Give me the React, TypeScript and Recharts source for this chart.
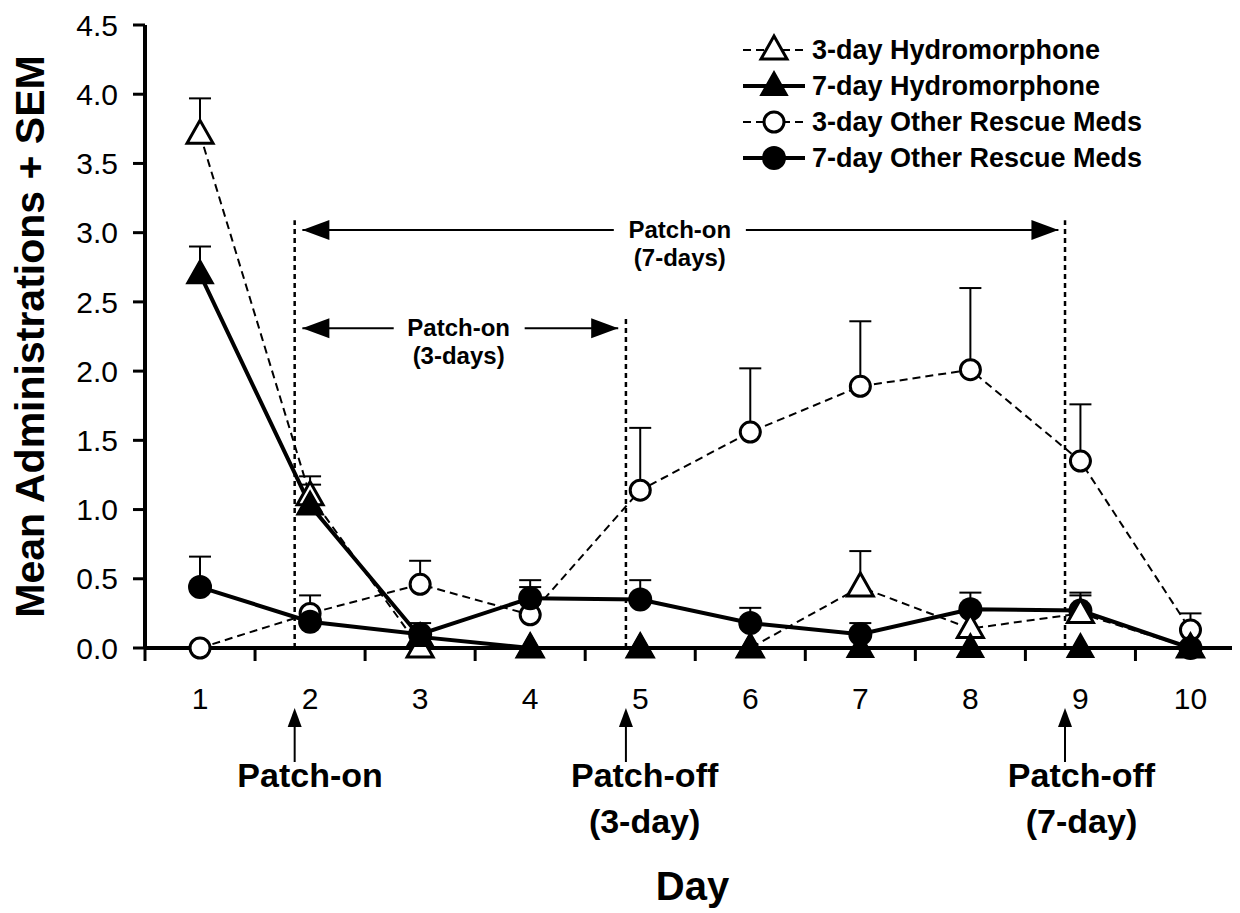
import React from 'react';
import {
  LineChart,
  Line,
  XAxis,
  YAxis,
  ErrorBar,
  ReferenceLine,
  ReferenceDot,
  Legend,
} from 'recharts';

const FONT = '"Liberation Sans", Arial, Helvetica, sans-serif';

// values
const days = [1, 2, 3, 4, 5, 6, 7, 8, 9, 10];
const hydro3Mean = [3.71, 1.1, 0, 0, 0, 0, 0.44, 0.14, 0.25, 0];
const hydro3Sem = [0.26, 0.14, null, null, null, null, 0.26, null, 0.13, null];
const hydro7Mean = [2.7, 1.03, 0.08, 0, 0, 0, 0, 0, 0, 0];
const hydro7Sem = [0.2, 0.15, null, null, null, null, null, null, null, null];
const other3Mean = [0, 0.25, 0.46, 0.24, 1.14, 1.56, 1.89, 2.01, 1.35, 0.13];
const other3Sem = [null, 0.13, 0.17, 0.2, 0.45, 0.46, 0.47, 0.59, 0.41, 0.12];
const other7Mean = [0.44, 0.19, 0.1, 0.36, 0.35, 0.18, 0.1, 0.28, 0.27, 0];
const other7Sem = [0.22, null, 0.08, 0.13, 0.14, 0.11, 0.08, 0.12, 0.13, null];

// tick marks sit between the days, labels on the days
const halfTicks = [0.5, 1.5, 2.5, 3.5, 4.5, 5.5, 6.5, 7.5, 8.5, 9.5];
const xTicks = [...halfTicks, ...days].sort((a, b) => a - b);
const yTicks = [0, 0.5, 1, 1.5, 2, 2.5, 3, 3.5, 4, 4.5];

const seriesNames = [
  '3-day Hydromorphone',
  '7-day Hydromorphone',
  '3-day Other Rescue Meds',
  '7-day Other Rescue Meds',
];

// patch on / off markers (day positions)
const patchOnDay = 1.86;
const patchOff3Day = 4.87;
const patchOff7Day = 8.86;

const data = days.map((day, i) => ({
  day,
  hydro3: hydro3Mean[i],
  hydro3Sem: hydro3Sem[i],
  hydro7: hydro7Mean[i],
  hydro7Sem: hydro7Sem[i],
  other3: other3Mean[i],
  other3Sem: other3Sem[i],
  other7: other7Mean[i],
  other7Sem: other7Sem[i],
}));

type MarkerKind = 'openTri' | 'fillTri' | 'openCircle' | 'fillCircle';

function marker(kind: MarkerKind, cx: number, cy: number) {
  const tri = `${cx},${cy - 14} ${cx + 13},${cy + 9} ${cx - 13},${cy + 9}`;
  if (kind === 'openTri') {
    return <polygon points={tri} fill="#fff" stroke="#000" strokeWidth={3} />;
  }
  if (kind === 'fillTri') {
    return <polygon points={tri} fill="#000" stroke="#000" strokeWidth={2} />;
  }
  if (kind === 'openCircle') {
    return <circle cx={cx} cy={cy} r={10} fill="#fff" stroke="#000" strokeWidth={3} />;
  }
  return <circle cx={cx} cy={cy} r={12} fill="#000" />;
}

const dotFor = (kind: MarkerKind) => (p: any) => {
  if (p.cx == null || p.cy == null) return <g key={`${kind}-${p.index}`} />;
  return <g key={`${kind}-${p.index}`}>{marker(kind, p.cx, p.cy)}</g>;
};

// error bars are upper only: the lower end is tucked inside the marker
const semTri = (key: string) => (d: any) => (d[key] == null ? null : [0.04, d[key]]);
const semCircle = (key: string) => (d: any) => (d[key] == null ? null : [0, d[key]]);

function DayTick(p: any) {
  const { x, y, payload } = p;
  const v = payload.value as number;
  if (Number.isInteger(v)) {
    return (
      <text x={x} y={y + 61} textAnchor="middle" style={{ fontFamily: FONT, fontSize: 30, fill: '#000' }}>
        {v}
      </text>
    );
  }
  return <line x1={x} y1={y} x2={x} y2={y + 13} stroke="#000" strokeWidth={3} />;
}

const legendRows: { kind: MarkerKind; dashed: boolean }[] = [
  { kind: 'openTri', dashed: true },
  { kind: 'fillTri', dashed: false },
  { kind: 'openCircle', dashed: true },
  { kind: 'fillCircle', dashed: false },
];

function LegendBox() {
  return (
    <div style={{ fontFamily: FONT }}>
      {seriesNames.map((name, i) => {
        const row = legendRows[i];
        return (
          <div key={name} style={{ display: 'flex', alignItems: 'center', height: 36 }}>
            <svg width={62} height={36}>
              <line
                x1={0}
                y1={18}
                x2={62}
                y2={18}
                stroke="#000"
                strokeWidth={row.dashed ? 2 : 4}
                strokeDasharray={row.dashed ? '8 5' : undefined}
              />
              {marker(row.kind, 31, 18)}
            </svg>
            <span style={{ marginLeft: 7, fontSize: 27, fontWeight: 700, color: '#000' }}>
              {name}
            </span>
          </div>
        );
      })}
    </div>
  );
}

const arrowHead = (dir: 'left' | 'right' | 'up') => (p: any) => {
  const { cx, cy } = p;
  if (dir === 'left') {
    return <polygon points={`${cx},${cy} ${cx + 27},${cy - 10} ${cx + 27},${cy + 10}`} fill="#000" />;
  }
  if (dir === 'right') {
    return <polygon points={`${cx},${cy} ${cx - 27},${cy - 10} ${cx - 27},${cy + 10}`} fill="#000" />;
  }
  // upward arrow drawn below the x axis
  return (
    <g>
      <line x1={cx} y1={cy + 74} x2={cx} y2={cy + 114} stroke="#000" strokeWidth={2} />
      <polygon points={`${cx},${cy + 60} ${cx - 7},${cy + 79} ${cx + 7},${cy + 79}`} fill="#000" />
    </g>
  );
};

const twoLines = (a: string, b: string, size: number, gap: number, first: number) => (p: any) => {
  const { cx, cy } = p;
  const st = { fontFamily: FONT, fontSize: size, fontWeight: 700, fill: '#000' } as const;
  return (
    <g>
      <text x={cx} y={cy + first} textAnchor="middle" style={st}>
        {a}
      </text>
      {b && (
        <text x={cx} y={cy + first + gap} textAnchor="middle" style={st}>
          {b}
        </text>
      )}
    </g>
  );
};

export default function App() {
  return (
    <LineChart
      width={1232}
      height={905}
      data={data}
      margin={{ top: 17, right: 0, left: 0, bottom: 0 }}
      style={{ fontFamily: FONT }}
    >
      <XAxis
        dataKey="day"
        type="number"
        domain={[0.5, 10.45]}
        ticks={xTicks}
        interval={0}
        tickSize={0}
        tickMargin={0}
        tickLine={false}
        tick={<DayTick />}
        height={265}
        axisLine={{ stroke: '#000', strokeWidth: 4 }}
        label={{
          value: 'Day',
          position: 'insideBottom',
          offset: 13,
          style: { fontSize: 40, fontWeight: 700, fill: '#000', fontFamily: FONT },
        }}
      />
      <YAxis
        type="number"
        domain={[0, 4.5]}
        ticks={yTicks}
        interval={0}
        width={137}
        tickSize={12}
        tickMargin={15}
        tickFormatter={(v: number) => v.toFixed(1)}
        axisLine={{ stroke: '#000', strokeWidth: 4 }}
        tickLine={{ stroke: '#000', strokeWidth: 3 }}
        tick={{ fontSize: 30, fill: '#000', fontFamily: FONT }}
        label={{
          value: 'Mean Administrations + SEM',
          angle: -90,
          position: 'insideLeft',
          offset: 21,
          style: { textAnchor: 'middle', fontSize: 41, fontWeight: 700, fill: '#000', fontFamily: FONT },
        }}
      />

      {/* dashed patch on/off lines */}
      <ReferenceLine segment={[{ x: patchOnDay, y: 0 }, { x: patchOnDay, y: 3.09 }]} stroke="#000" strokeWidth={2.5} strokeDasharray="5 4" />
      <ReferenceLine segment={[{ x: patchOff3Day, y: 0 }, { x: patchOff3Day, y: 2.39 }]} stroke="#000" strokeWidth={2.5} strokeDasharray="5 4" />
      <ReferenceLine segment={[{ x: patchOff7Day, y: 0 }, { x: patchOff7Day, y: 3.09 }]} stroke="#000" strokeWidth={2.5} strokeDasharray="5 4" />

      {/* Patch-on (7-days) span */}
      <ReferenceLine segment={[{ x: 1.93, y: 3.02 }, { x: 4.76, y: 3.02 }]} stroke="#000" strokeWidth={2} />
      <ReferenceLine segment={[{ x: 5.96, y: 3.02 }, { x: 8.8, y: 3.02 }]} stroke="#000" strokeWidth={2} />
      <ReferenceDot x={1.93} y={3.02} r={0} shape={arrowHead('left')} />
      <ReferenceDot x={8.8} y={3.02} r={0} shape={arrowHead('right')} />
      <ReferenceDot x={5.36} y={3.02} r={0} shape={twoLines('Patch-on', '(7-days)', 24, 28, 8)} />

      {/* Patch-on (3-days) span */}
      <ReferenceLine segment={[{ x: 1.93, y: 2.31 }, { x: 2.76, y: 2.31 }]} stroke="#000" strokeWidth={2} />
      <ReferenceLine segment={[{ x: 3.95, y: 2.31 }, { x: 4.8, y: 2.31 }]} stroke="#000" strokeWidth={2} />
      <ReferenceDot x={1.93} y={2.31} r={0} shape={arrowHead('left')} />
      <ReferenceDot x={4.8} y={2.31} r={0} shape={arrowHead('right')} />
      <ReferenceDot x={3.35} y={2.31} r={0} shape={twoLines('Patch-on', '(3-days)', 24, 28, 8)} />

      {/* arrows and notes under the axis */}
      <ReferenceDot x={patchOnDay} y={0} r={0} ifOverflow="visible" shape={arrowHead('up')} />
      <ReferenceDot x={patchOff3Day} y={0} r={0} ifOverflow="visible" shape={arrowHead('up')} />
      <ReferenceDot x={patchOff7Day} y={0} r={0} ifOverflow="visible" shape={arrowHead('up')} />
      <ReferenceDot x={2.0} y={0} r={0} ifOverflow="visible" shape={twoLines('Patch-on', '', 34, 47, 139)} />
      <ReferenceDot x={5.04} y={0} r={0} ifOverflow="visible" shape={twoLines('Patch-off', '(3-day)', 34, 46, 139)} />
      <ReferenceDot x={9.01} y={0} r={0} ifOverflow="visible" shape={twoLines('Patch-off', '(7-day)', 34, 46, 139)} />

      <Line
        name={seriesNames[2]}
        dataKey="other3"
        type="linear"
        stroke="#000"
        strokeWidth={2}
        strokeDasharray="8 5"
        dot={dotFor('openCircle')}
        isAnimationActive={false}
      >
        <ErrorBar dataKey={semCircle('other3Sem')} width={11} strokeWidth={2} stroke="#000" direction="y" />
      </Line>
      <Line
        name={seriesNames[3]}
        dataKey="other7"
        type="linear"
        stroke="#000"
        strokeWidth={4}
        dot={dotFor('fillCircle')}
        isAnimationActive={false}
      >
        <ErrorBar dataKey={semCircle('other7Sem')} width={11} strokeWidth={2} stroke="#000" direction="y" />
      </Line>
      <Line
        name={seriesNames[0]}
        dataKey="hydro3"
        type="linear"
        stroke="#000"
        strokeWidth={2}
        strokeDasharray="8 5"
        dot={dotFor('openTri')}
        isAnimationActive={false}
      >
        <ErrorBar dataKey={semTri('hydro3Sem')} width={11} strokeWidth={2} stroke="#000" direction="y" />
      </Line>
      <Line
        name={seriesNames[1]}
        dataKey="hydro7"
        type="linear"
        stroke="#000"
        strokeWidth={4}
        dot={dotFor('fillTri')}
        isAnimationActive={false}
      >
        <ErrorBar dataKey={semTri('hydro7Sem')} width={11} strokeWidth={2} stroke="#000" direction="y" />
      </Line>

      <Legend
        layout="vertical"
        align="center"
        verticalAlign="middle"
        wrapperStyle={{ top: 24, left: 735, width: 480, height: 150 }}
        content={() => <LegendBox />}
      />
    </LineChart>
  );
}
